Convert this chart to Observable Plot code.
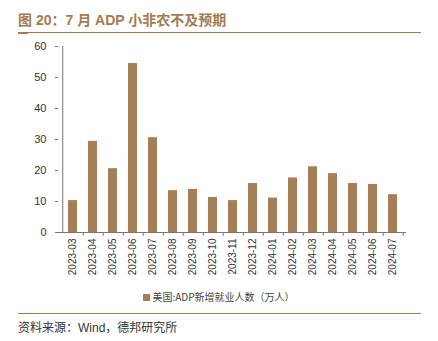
<!DOCTYPE html>
<html><head><meta charset="utf-8">
<script src="https://cdn.jsdelivr.net/npm/d3@7"></script>
<script src="https://cdn.jsdelivr.net/npm/@observablehq/plot@0.6"></script>
<style>
body{margin:0;background:#fff;}
#wrap{position:relative;width:438px;height:341px;overflow:hidden;font-family:"Liberation Sans",Arial,"Noto Sans CJK SC",sans-serif;}
#title{position:absolute;left:18px;top:9px;font-size:14px;font-weight:bold;color:#a37b50;font-family:"Liberation Sans",Arial,"Noto Sans CJK SC",sans-serif;white-space:nowrap;}
#line1{position:absolute;left:18px;top:32px;width:403px;height:1px;background:#a37b50;}
#line1b{position:absolute;left:18px;top:32px;width:10px;height:2px;background:#a37b50;}
#chart{position:absolute;left:0;top:36px;}
#legend{position:absolute;left:0;width:438px;top:289px;text-align:center;font-size:10px;color:#444;font-family:"Noto Sans CJK SC",sans-serif;white-space:nowrap;}
#legend span.sw{display:inline-block;width:7px;height:7px;background:#a67f59;margin-right:2px;vertical-align:0px;}
#line2{position:absolute;left:18px;top:313px;width:403px;height:1px;background:#a37b50;}
#source{position:absolute;left:18px;top:318px;font-size:12px;color:#333;font-family:"Liberation Sans","Noto Sans CJK SC",sans-serif;white-space:nowrap;}
</style></head>
<body><div id="wrap">
<div id="title">图 20：7 月 ADP 小非农不及预期</div>
<div id="line1"></div><div id="line1b"></div>
<div id="chart"></div>
<div id="legend"><span class="sw"></span>美国:ADP新增就业人数（万人）</div>
<div id="line2"></div>
<div id="source">资料来源：Wind，德邦研究所</div>
</div>
<script>
const months = ["2023-03","2023-04","2023-05","2023-06","2023-07","2023-08","2023-09","2023-10","2023-11","2023-12","2024-01","2024-02","2024-03","2024-04","2024-05","2024-06","2024-07"];
const adp = [10.3,29.4,20.6,54.5,30.6,13.5,13.9,11.3,10.3,15.8,11.1,17.6,21.2,19.0,15.8,15.5,12.2];
const yTicks = [0,10,20,30,40,50,60];

const data = months.map((m,i)=>({m, v: adp[i]}));
const width = 438, height = 250, mL = 58, mR = 32;
const step = (width - mL - mR) / months.length;

const chart = Plot.plot({
  width, height,
  marginLeft: mL, marginRight: mR, marginTop: 10, marginBottom: 54,
  style: {fontFamily: "'Liberation Sans', Arial, sans-serif", fontSize: "11px", color: "#333", background: "transparent", overflow: "visible"},
  x: {domain: months, paddingInner: 0.55, paddingOuter: 0.275, label: null},
  y: {domain: [0,60], label: null},
  marks: [
    Plot.axisY({ticks: yTicks, tickSize: 3, tickPadding: 9, stroke: "#777", label: null, fontSize: 11}),
    Plot.axisX({tickSize: 0, tickRotate: -90, tickPadding: 6, label: null, fontSize: 10, fill: "#333"}),
    Plot.barY(data, {x: "m", y: "v", fill: "#a67f59"}),
    Plot.ruleX(months, {x: d=>d, y1: 0, y2: -1.2, dx: step/2, stroke: "#777"}),
    Plot.ruleY([0], {stroke: "#777"}),
    Plot.ruleX([months[0]], {x: d=>d, y1: 0, y2: 60, dx: -step/2, stroke: "#777"})
  ]
});
document.getElementById("chart").appendChild(chart);
</script>
</body></html>
